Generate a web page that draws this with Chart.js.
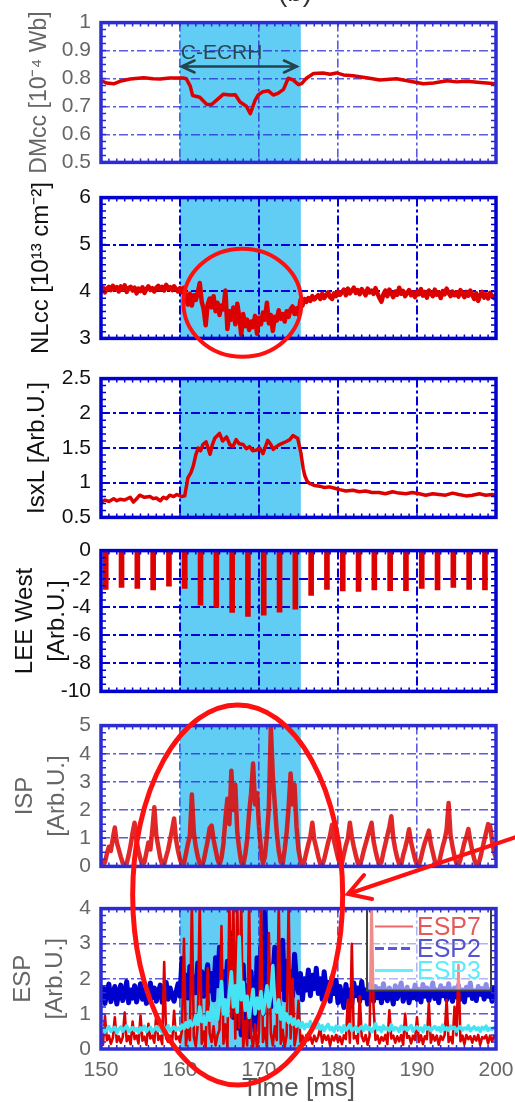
<!DOCTYPE html>
<html>
<head>
<meta charset="utf-8">
<script src="https://cdn.jsdelivr.net/npm/chart.js"></script>
<style>
  html, body { margin: 0; padding: 0; background: #fff; }
  #page { position: relative; width: 515px; height: 1102px; overflow: hidden; background: #fff; }
  #page canvas { position: absolute; left: 0; }
</style>
</head>
<body>
<div id="page"></div>
<script>
const FONT = '"Liberation Sans", Arial, Helvetica, sans-serif';

// ECRH pulse window (ms)
const heatStart = 160;
const heatEnd = 175.3;

// fast diagnostics share one sampling grid
const t0 = 150;
const dt = 0.25;

// diamagnetic flux
const dmTime = [150, 150.7, 151.6, 152.4, 153.7, 155.4, 156.6, 157.5, 158.7, 160.4,
  160.8, 161.3, 161.6, 162.5, 163.4, 164.0, 164.6, 165.5, 166.3, 167.0,
  167.6, 168.4, 168.9, 169.5, 169.9, 170.5, 171.2, 171.8, 172.4, 173.1,
  173.7, 174.3, 175.0, 175.4, 176.0, 176.9, 178.1, 179.0, 179.8, 180.7,
  181.9, 183.6, 185.3, 187.4, 189.1, 190.8, 192.1, 193.8, 195.0, 196.3,
  198.0, 200];
const dmValue = [0.793, 0.784, 0.781, 0.790, 0.798, 0.803, 0.799, 0.798, 0.802, 0.802,
  0.799, 0.773, 0.739, 0.733, 0.707, 0.707, 0.722, 0.744, 0.741, 0.742,
  0.716, 0.701, 0.674, 0.722, 0.741, 0.753, 0.756, 0.741, 0.747, 0.761,
  0.801, 0.795, 0.778, 0.782, 0.801, 0.818, 0.820, 0.815, 0.820, 0.813,
  0.810, 0.803, 0.795, 0.799, 0.790, 0.781, 0.784, 0.792, 0.788, 0.790,
  0.786, 0.781];

// line density, 0.25 ms samples
const nlValue = [
  4.02, 4.08, 3.98, 4.06, 4.10, 4.03, 4.12, 4.05, 4.09, 4.00,
  4.11, 4.04, 4.13, 3.99, 4.07, 4.10, 4.02, 4.08, 3.96, 4.06,
  4.01, 4.09, 3.97, 4.05, 4.11, 4.03, 4.07, 4.00, 4.08, 4.12,
  4.04, 4.10, 4.02, 4.14, 4.06, 4.09, 4.03, 4.11, 4.05, 4.00,
  4.07, 3.98, 4.08, 3.90, 3.72, 3.95, 3.70, 3.92, 3.82, 3.98,
  4.18, 3.78, 3.62, 3.28, 3.72, 3.85, 3.66, 3.90, 3.58, 3.76,
  3.50, 3.70, 3.62, 4.02, 3.20, 3.58, 3.40, 3.66, 3.30, 3.74,
  3.46, 3.08, 3.52, 3.26, 3.40, 3.18, 3.36, 3.24, 3.48, 3.10,
  3.44, 3.30, 3.55, 3.40, 3.76, 3.32, 3.50, 3.16, 3.46, 3.38,
  3.60, 3.42, 3.52, 3.36, 3.58, 3.46, 3.62, 3.68, 3.52, 3.64,
  3.50, 3.82, 3.70, 3.84, 3.78, 3.86, 3.80, 3.90, 3.83, 3.88,
  3.92, 3.84, 3.95, 3.86, 3.92, 3.98, 3.88, 3.84, 3.96, 3.90,
  4.00, 3.93, 3.98, 4.04, 3.92, 4.06, 3.96, 4.02, 4.08, 3.97,
  4.03, 3.94, 4.05, 3.99, 3.92, 4.06, 3.98, 4.02, 3.95, 4.07,
  3.96, 3.86, 3.78, 3.94, 4.02, 3.90, 4.04, 3.96, 3.88, 4.00,
  3.93, 4.08, 3.95, 4.01, 3.90, 3.97, 4.03, 3.92, 3.98, 3.88,
  4.00, 3.94, 4.05, 3.91, 3.99, 3.87, 4.02, 3.96, 3.90, 4.04,
  3.93, 3.98, 3.86, 4.01, 3.94, 4.06, 3.97, 3.90, 4.00, 3.92,
  3.98, 3.89, 4.03, 3.95, 3.88, 3.99, 3.91, 4.02, 3.93, 3.84,
  3.96, 3.80, 3.92, 3.99, 3.87, 3.94, 3.85, 3.97, 3.90, 3.86,
  3.93];

// soft X-ray
const isxTime = [150.0, 150.5, 151.0, 151.6, 152.0, 152.4, 153.0, 153.7, 154.1, 154.6,
  154.9, 155.5, 156.2, 156.6, 157.0, 157.5, 157.9, 158.3, 158.7, 159.2,
  159.6, 160.2, 160.6, 161.0, 161.4, 161.7, 162.0, 162.3, 162.6, 162.9,
  163.3, 163.8, 164.1, 164.4, 165.0, 165.4, 165.9, 166.3, 166.7, 167.1,
  167.5, 168.0, 168.4, 168.8, 169.2, 169.7, 170.1, 170.5, 171.1, 171.5,
  171.8, 172.2, 172.6, 173.0, 173.4, 173.9, 174.3, 174.6, 174.9, 175.3,
  175.6, 175.8, 176.1, 176.4, 177.0, 177.7, 178.3, 178.9, 179.6, 180.2,
  181.0, 181.9, 182.7, 183.5, 184.3, 185.2, 186.0, 186.9, 187.7, 188.6,
  189.4, 190.3, 191.1, 192.0, 192.8, 193.6, 194.5, 195.3, 196.2, 197.0,
  197.9, 198.7, 199.5, 200.0];
const isxValue = [0.72, 0.75, 0.73, 0.77, 0.74, 0.76, 0.75, 0.79, 0.72, 0.78,
  0.82, 0.79, 0.80, 0.77, 0.78, 0.74, 0.79, 0.77, 0.82, 0.80,
  0.83, 0.80, 0.81, 1.07, 1.15, 1.25, 1.40, 1.50, 1.46, 1.55,
  1.59, 1.41, 1.55, 1.64, 1.71, 1.60, 1.66, 1.55, 1.52, 1.62,
  1.56, 1.55, 1.49, 1.52, 1.46, 1.47, 1.50, 1.42, 1.61, 1.55,
  1.48, 1.52, 1.55, 1.57, 1.59, 1.62, 1.68, 1.66, 1.64, 1.43,
  1.20, 1.10, 1.02, 0.99, 0.96, 0.95, 0.93, 0.94, 0.92, 0.90,
  0.88, 0.89, 0.87, 0.88, 0.86, 0.86, 0.84, 0.87, 0.85, 0.84,
  0.86, 0.84, 0.82, 0.84, 0.83, 0.82, 0.85, 0.83, 0.81, 0.82,
  0.84, 0.82, 0.83, 0.82];

// LEE west probe bursts
const leeTime = [150.6, 152.6, 154.6, 156.6, 158.6, 160.6, 162.6, 164.6, 166.6, 168.6,
  170.6, 172.6, 174.6, 176.6, 178.6, 180.6, 182.6, 184.6, 186.6, 188.6,
  190.6, 192.6, 194.6, 196.6, 198.6];
const leeDepth = [-2.76, -2.62, -2.69, -2.80, -2.52, -2.69, -3.88, -4.04, -4.39, -4.67,
  -4.58, -4.37, -4.16, -3.18, -2.76, -2.87, -2.90, -2.80, -2.85, -2.85,
  -2.69, -2.80, -2.62, -2.76, -2.80];

// ion saturation current, 0.25 ms samples
const ispValue = [
  0.20, 0.05, 0.15, 0.45, 0.70, 0.55, 1.00, 1.38, 0.85, 0.60,
  0.35, 0.12, 0.02, 0.10, 0.40, 0.75, 1.20, 1.55, 0.90, 0.55,
  0.25, 0.05, 0.15, 0.50, 0.85, 0.60, 1.30, 2.10, 1.10, 0.70,
  0.30, 0.06, 0.08, 0.35, 0.60, 0.95, 1.30, 1.70, 0.95, 0.55,
  0.25, 0.04, 0.10, 0.45, 0.80, 1.10, 2.55, 1.20, 0.70, 0.35,
  0.10, 0.02, 0.20, 0.55, 0.90, 1.35, 1.45, 0.95, 0.60, 0.25,
  0.05, 0.30, 0.80, 1.70, 2.40, 1.50, 3.40, 2.00, 2.90, 1.20,
  0.60, 0.15, 0.05, 0.40, 0.95, 1.90, 2.60, 3.65, 2.20, 2.60,
  1.40, 0.60, 0.10, 0.35, 1.10, 2.10, 4.95, 3.20, 2.20, 1.20,
  0.55, 0.15, 0.10, 0.60, 1.20, 2.10, 3.30, 2.20, 2.90, 1.40,
  0.60, 0.20, 0.05, 0.20, 0.50, 0.80, 1.05, 1.55, 0.95, 0.65,
  0.35, 0.10, 0.03, 0.25, 0.55, 0.85, 1.10, 1.48, 0.90, 0.60,
  0.30, 0.06, 0.10, 0.45, 0.75, 1.00, 1.55, 1.05, 0.70, 0.40,
  0.12, 0.03, 0.25, 0.55, 0.80, 1.05, 1.30, 1.55, 0.90, 0.55,
  0.25, 0.05, 0.15, 0.50, 0.80, 1.10, 1.40, 1.78, 1.00, 0.60,
  0.30, 0.08, 0.05, 0.40, 0.65, 0.95, 1.32, 0.85, 0.55, 0.25,
  0.06, 0.04, 0.30, 0.60, 0.85, 1.05, 1.27, 0.80, 0.50, 0.20,
  0.05, 0.08, 0.40, 0.70, 0.95, 1.30, 2.25, 1.10, 0.70, 0.35,
  0.10, 0.03, 0.25, 0.55, 0.85, 1.05, 1.33, 0.90, 0.55, 0.25,
  0.06, 0.05, 0.30, 0.60, 0.90, 1.20, 1.50, 1.45, 0.90, 0.50,
  0.30];

// electrostatic probes, 0.25 ms samples
const espNames = ['ESP7', 'ESP2', 'ESP3'];
const esp7Value = [
  0.30, 0.12, 0.94, 0.25, 0.38, 0.15, 0.32, 0.90, 0.20, 0.36,
  0.18, 0.33, 1.04, 0.22, 0.37, 0.14, 0.78, 0.28, 0.38, 0.16,
  0.95, 0.24, 0.35, 0.12, 0.72, 0.30, 0.38, 0.18, 1.00, 0.26,
  0.37, 0.14, 2.48, 0.30, 0.20, 0.38, 0.15, 1.09, 0.28, 0.35,
  0.20, 0.55, 3.14, 0.10, 0.60, 0.25, 4.20, 0.35, 0.08, 0.70,
  4.20, 0.15, 0.50, 0.05, 2.30, 0.45, 0.20, 0.65, 0.10, 0.40,
  0.55, 3.50, 0.15, 0.70, 0.05, 4.20, 0.90, 4.20, 0.30, 4.20,
  0.60, 4.20, 0.00, 0.80, 0.10, 4.20, 0.40, 0.05, 0.70, 0.00,
  0.50, 4.20, 0.20, 0.60, 0.05, 3.30, 0.45, 0.10, 0.65, 0.25,
  4.20, 0.15, 0.55, 0.05, 0.40, 4.20, 0.30, 2.00, 0.10, 0.45,
  1.37, 0.20, 0.38, 0.12, 0.40, 0.25, 0.35, 0.15, 0.38, 0.22,
  0.36, 0.60, 0.18, 0.40, 0.26, 0.38, 0.10, 0.37, 0.24, 0.40,
  0.20, 0.35, 0.14, 0.39, 0.28, 1.40, 0.18, 3.00, 0.30, 0.37,
  0.16, 1.50, 0.36, 0.22, 0.40, 0.12, 0.38, 4.20, 1.20, 0.26,
  0.38, 0.16, 0.34, 0.24, 0.40, 0.14, 1.10, 0.30, 0.38, 0.18,
  0.36, 0.22, 0.40, 0.12, 1.00, 0.32, 0.37, 0.16, 0.38, 0.26,
  0.90, 0.20, 0.39, 0.14, 0.36, 0.28, 1.30, 0.18, 0.40, 0.24,
  0.38, 0.12, 0.37, 0.26, 0.40, 1.40, 0.20, 0.34, 0.16, 1.20,
  0.39, 2.40, 0.22, 0.38, 0.14, 0.40, 0.28, 0.36, 0.18, 0.37,
  0.24, 0.40, 0.12, 0.34, 0.30, 0.39, 0.16, 0.38, 0.22, 0.37,
  0.28];
const esp2Value = [
  1.45, 1.75, 1.30, 1.62, 1.85, 1.35, 1.55, 1.78, 1.28, 1.60,
  1.82, 1.38, 1.58, 1.92, 1.32, 1.68, 1.45, 1.80, 1.34, 1.60,
  1.86, 1.42, 1.70, 1.30, 1.56, 1.88, 1.46, 1.74, 1.36, 1.62,
  1.82, 1.33, 1.66, 1.90, 1.42, 1.74, 1.52, 1.36, 1.62, 1.86,
  1.50, 2.58, 1.70, 2.10, 1.45, 2.35, 1.85, 2.05, 1.60, 2.45,
  1.75, 2.20, 1.50, 1.95, 2.40, 1.65, 2.15, 1.40, 2.60, 1.80,
  2.90, 1.70, 2.20, 1.50, 2.50, 1.20, 3.30, 0.90, 2.00, 0.60,
  1.60, 0.40, 2.40, 0.80, 1.80, 0.35, 2.20, 1.10, 0.50, 2.60,
  1.40, 2.90, 1.00, 4.00, 1.60, 2.40, 1.20, 2.00, 2.90, 1.50,
  2.30, 1.70, 3.10, 1.40, 2.50, 1.80, 2.20, 1.50, 2.70, 1.90,
  1.60, 2.15, 1.40, 2.00, 1.68, 2.25, 1.52, 2.10, 1.72, 2.30,
  1.58, 2.00, 1.42, 2.20, 1.68, 1.90, 1.36, 2.05, 1.58, 1.95,
  1.32, 1.78, 1.48, 1.18, 1.84, 1.42, 1.68, 1.28, 1.88, 1.52,
  1.74, 1.36, 1.92, 1.46, 1.68, 1.28, 1.84, 1.52, 1.36, 1.78,
  1.46, 1.72, 1.32, 1.86, 1.52, 1.38, 1.74, 1.58, 1.28, 1.80,
  1.44, 1.68, 1.88, 1.36, 1.60, 1.76, 1.32, 1.66, 1.46, 1.82,
  1.42, 1.70, 1.34, 1.84, 1.50, 1.74, 1.38, 1.62, 1.88, 1.44,
  1.68, 1.32, 1.80, 1.52, 1.72, 1.40, 1.86, 1.56, 1.36, 1.74,
  1.48, 1.82, 1.42, 1.68, 1.34, 1.76, 1.54, 1.88, 1.44, 1.66,
  1.38, 1.78, 1.56, 1.72, 1.42, 1.84, 1.50, 1.68, 1.36, 1.74,
  1.56];
const esp3Value = [
  0.52, 0.60, 0.48, 0.58, 0.64, 0.50, 0.56, 0.62, 0.46, 0.57,
  0.63, 0.51, 0.59, 0.66, 0.49, 0.55, 0.61, 0.53, 0.58, 0.47,
  0.60, 0.54, 0.65, 0.50, 0.57, 0.62, 0.48, 0.56, 0.64, 0.52,
  0.59, 0.46, 0.61, 0.55, 0.67, 0.51, 0.58, 0.63, 0.54, 0.60,
  0.55, 0.68, 0.58, 0.75, 0.62, 0.80, 0.66, 0.72, 0.95, 0.70,
  1.20, 0.78, 0.88, 0.70, 1.05, 0.82, 1.25, 0.90, 1.10, 0.85,
  1.30, 1.92, 1.00, 1.40, 0.95, 1.60, 2.20, 1.20, 1.80, 1.05,
  3.20, 1.40, 1.90, 1.10, 1.50, 0.90, 1.30, 1.70, 1.00, 1.45,
  1.15, 1.64, 1.00, 1.35, 1.80, 1.20, 1.50, 2.38, 1.30, 1.05,
  1.40, 0.85, 1.18, 0.80, 1.00, 0.75, 0.92, 0.70, 0.85, 0.65,
  0.80, 0.62, 0.75, 0.58, 0.70, 0.64, 0.78, 0.55, 0.68, 0.60,
  0.72, 0.57, 0.66, 0.52, 0.63, 0.70, 0.55, 0.61, 0.50, 0.65,
  0.58, 0.62, 0.48, 0.66, 0.54, 0.60, 0.70, 0.52, 0.57, 0.63,
  0.50, 0.59, 0.64, 0.53, 0.68, 0.56, 0.61, 0.49, 0.58, 0.72,
  0.55, 0.62, 0.50, 0.66, 0.57, 0.60, 0.52, 0.69, 0.54, 0.61,
  0.58, 0.50, 0.65, 0.56, 0.62, 0.53, 0.60, 0.67, 0.51, 0.59,
  0.63, 0.54, 0.60, 0.49, 0.66, 0.57, 0.62, 0.52, 0.58, 0.64,
  0.55, 0.61, 0.50, 0.68, 0.56, 0.60, 0.53, 0.65, 0.58, 0.62,
  0.51, 0.59, 0.64, 0.54, 0.60, 0.57, 0.66, 0.52, 0.58, 0.63,
  0.55, 0.60, 0.50, 0.62, 0.57, 0.65, 0.53, 0.59, 0.56, 0.61,
  0.58];

const page = document.getElementById('page');

function paired(times, values) {
  return values.map((v, i) => ({x: times[i], y: v}));
}
function sampled(values) {
  return values.map((v, i) => ({x: t0 + i * dt, y: v}));
}

const looks = {
  muted: {frame: '#2c2cd2', grid: 'rgba(45,45,215,0.78)', gridWidth: 1.6, text: '#666666'},
  strong: {frame: '#0000d0', grid: '#0000dc', gridWidth: 2, text: '#111111'}
};

// heating band underneath the grid, heavy frame and inner minor ticks on top
function decoPlugin(frame, yStep, minor) {
  return {
    id: 'deco',
    beforeDraw(chart) {
      const {ctx, chartArea: a, scales: {x}} = chart;
      const x0 = x.getPixelForValue(heatStart);
      const x1 = x.getPixelForValue(heatEnd);
      ctx.save();
      ctx.fillStyle = '#62cdf4';
      ctx.fillRect(x0, a.top, x1 - x0, a.bottom - a.top);
      ctx.restore();
    },
    afterDraw(chart) {
      const {ctx, chartArea: a, scales: {x, y}} = chart;
      ctx.save();
      ctx.strokeStyle = frame;
      ctx.lineWidth = 1.5;
      ctx.beginPath();
      const n = Math.round((y.max - y.min) / yStep) * minor;
      for (let i = 1; i < n; i++) {
        const py = y.getPixelForValue(y.min + i * yStep / minor);
        ctx.moveTo(a.left, py); ctx.lineTo(a.left + 5, py);
        ctx.moveTo(a.right, py); ctx.lineTo(a.right - 5, py);
      }
      for (let ms = 151; ms < 200; ms++) {
        const px = x.getPixelForValue(ms);
        ctx.moveTo(px, a.top); ctx.lineTo(px, a.top + 4);
        ctx.moveTo(px, a.bottom); ctx.lineTo(px, a.bottom - 4);
      }
      ctx.stroke();
      ctx.lineWidth = 3.5;
      ctx.strokeRect(a.left, a.top, a.right - a.left, a.bottom - a.top);
      ctx.restore();
    }
  };
}

const plainNumber = v => String(+v.toFixed(2));

function makePanel(p) {
  const look = looks[p.look];
  const canvas = document.createElement('canvas');
  const canvasTop = p.top - 20;
  const height = p.last ? 1102 - canvasTop : p.bottom - p.top + 40;
  canvas.width = 515;
  canvas.height = height;
  canvas.style.top = canvasTop + 'px';
  page.appendChild(canvas);
  const xBand = p.last ? height - 20 - (p.bottom - p.top) : 0;
  const grid = {color: look.grid, lineWidth: look.gridWidth, drawTicks: false, offset: false};
  const border = {display: false, dash: [9, 3, 3, 3]};
  const chart = new Chart(canvas, {
    type: p.type || 'line',
    data: {datasets: p.datasets},
    options: {
      responsive: false,
      animation: false,
      events: [],
      layout: {padding: {left: 0, right: 19, top: 20, bottom: p.last ? 0 : 20}},
      elements: {
        point: {radius: 0},
        line: {tension: 0, borderJoinStyle: 'round', borderCapStyle: 'round'}
      },
      plugins: {legend: {display: false}, tooltip: {enabled: false}},
      scales: {
        x: {
          type: 'linear', min: 150, max: 200, offset: false,
          grid: grid, border: border,
          ticks: {display: !!p.last, stepSize: 10, padding: 9, color: '#666',
                  font: {family: FONT, size: 21}},
          title: {display: !!p.last, text: 'Time [ms]', color: '#555',
                  font: {family: FONT, size: 26, lineHeight: 1}, padding: 0},
          afterFit: s => { s.height = xBand; s.paddingLeft = 0; s.paddingRight = 0; }
        },
        y: {
          min: p.yMin, max: p.yMax,
          grid: grid, border: border,
          ticks: {stepSize: p.yStep, padding: 10, color: look.text,
                  font: {family: FONT, size: 21}, callback: plainNumber},
          title: {display: true, text: p.title, color: look.text,
                  font: {family: FONT, size: p.titleSize, lineHeight: p.titleLine || 1.2},
                  padding: {top: p.titlePad, bottom: 0}},
          afterFit: s => { s.width = 101; }
        }
      }
    },
    plugins: [decoPlugin(look.frame, p.yStep, p.minor)].concat(p.extra || [])
  });
  chart.pageTop = canvasTop;
  return chart;
}

// double arrow marking the heating pulse
const ecrhLabel = {
  id: 'ecrhLabel',
  afterDatasetsDraw(chart) {
    const {ctx, scales: {x, y}} = chart;
    const xa = x.getPixelForValue(160.2), xb = x.getPixelForValue(174.8);
    const ya = y.getPixelForValue(0.843);
    ctx.save();
    ctx.strokeStyle = '#23434d';
    ctx.lineWidth = 2.5;
    ctx.lineCap = 'round';
    ctx.beginPath();
    ctx.moveTo(xa, ya); ctx.lineTo(xb, ya);
    ctx.moveTo(xa + 13, ya - 6); ctx.lineTo(xa, ya); ctx.lineTo(xa + 13, ya + 6);
    ctx.moveTo(xb - 13, ya - 6); ctx.lineTo(xb, ya); ctx.lineTo(xb - 13, ya + 6);
    ctx.stroke();
    ctx.fillStyle = '#2a4852';
    ctx.font = '21px ' + FONT;
    ctx.textBaseline = 'middle';
    ctx.fillText('C-ECRH', x.getPixelForValue(160.1), y.getPixelForValue(0.89));
    ctx.restore();
  }
};

// translucent legend box in the upper right of the probe panel
const espLegend = {
  id: 'espLegend',
  afterDatasetsDraw(chart) {
    const {ctx, chartArea: a} = chart;
    const left = a.right - 129, top = a.top, w = 124, h = 82;
    const lineColor = ['#ee6a6a', '#5858dc', '#66eeff'];
    const textColor = ['#e45a5a', '#5454cc', '#5cecfc'];
    ctx.save();
    ctx.fillStyle = 'rgba(255,255,255,0.55)';
    ctx.fillRect(left, top, w, h);
    ctx.strokeStyle = '#404040';
    ctx.lineWidth = 2;
    ctx.strokeRect(left, top, w, h);
    ctx.font = '25px ' + FONT;
    ctx.textBaseline = 'middle';
    espNames.forEach((name, i) => {
      const yy = top + 18 + i * 22;
      ctx.strokeStyle = lineColor[i];
      ctx.lineWidth = i === 0 ? 2 : 3;
      ctx.setLineDash(i === 1 ? [9, 4] : []);
      ctx.beginPath();
      ctx.moveTo(left + 8, yy); ctx.lineTo(left + 46, yy);
      ctx.stroke();
      ctx.fillStyle = textColor[i];
      ctx.fillText(name, left + 50, yy + 2);
    });
    ctx.restore();
  }
};

const red = '#dd0000';

const dmChart = makePanel({
  look: 'muted', top: 20, bottom: 165, yMin: 0.5, yMax: 1, yStep: 0.1, minor: 4,
  title: 'DMcc [10⁻⁴ Wb]', titleSize: 23, titlePad: 26,
  datasets: [{data: paired(dmTime, dmValue), borderColor: red, borderWidth: 3.5}],
  extra: [ecrhLabel]
});

const nlChart = makePanel({
  look: 'strong', top: 195, bottom: 341, yMin: 3, yMax: 6, yStep: 1, minor: 7,
  title: 'NLcc [10¹³ cm⁻²]', titleSize: 24, titlePad: 27,
  datasets: [{data: sampled(nlValue), borderColor: red, borderWidth: 4.5}]
});

const isxChart = makePanel({
  look: 'strong', top: 376, bottom: 520, yMin: 0.5, yMax: 2.5, yStep: 0.5, minor: 5,
  title: 'IsxL [Arb.U.]', titleSize: 24, titlePad: 23,
  datasets: [{data: paired(isxTime, isxValue), borderColor: red, borderWidth: 3.5}]
});

const leeChart = makePanel({
  type: 'bar', look: 'strong', top: 548, bottom: 694, yMin: -10, yMax: 0, yStep: 2, minor: 4,
  title: ['LEE West', '[Arb.U.]'], titleSize: 24, titleLine: 32 / 24, titlePad: 9,
  datasets: [{data: paired(leeTime, leeDepth), backgroundColor: red, barThickness: 5}]
});

const ispChart = makePanel({
  look: 'muted', top: 723, bottom: 869, yMin: 0, yMax: 5, yStep: 1, minor: 4,
  title: ['ISP', '[Arb.U.]'], titleSize: 24, titleLine: 32 / 24, titlePad: 9,
  datasets: [{data: sampled(ispValue), borderColor: 'rgba(221,10,10,0.88)', borderWidth: 4.5}]
});

// cyan on top, blue underneath
const espChart = makePanel({
  look: 'muted', top: 906, bottom: 1049, yMin: 0, yMax: 4, yStep: 1, minor: 5, last: true,
  title: ['ESP', '[Arb.U.]'], titleSize: 24, titleLine: 32 / 24, titlePad: 7,
  datasets: [
    {label: espNames[0], data: sampled(esp7Value), borderColor: red, borderWidth: 2.6, order: 1},
    {label: espNames[1], data: sampled(esp2Value), borderColor: '#0000cc', borderWidth: 5, order: 2},
    {label: espNames[2], data: sampled(esp3Value), borderColor: '#44e4f4', borderWidth: 3.5, order: 0}
  ],
  extra: [espLegend]
});

// hand-drawn red highlights over the whole figure
const marks = document.createElement('canvas');
marks.width = 515;
marks.height = 1102;
marks.style.top = '0px';
page.appendChild(marks);
const mc = marks.getContext('2d');

mc.fillStyle = '#333';
mc.font = '28px ' + FONT;
mc.textAlign = 'center';
mc.fillText('(b)', 295, 1);

mc.strokeStyle = '#ff1010';
mc.lineCap = 'round';

const cx = nlChart.scales.x.getPixelForValue(167.9);
const cy = nlChart.pageTop + nlChart.scales.y.getPixelForValue(3.76);
mc.lineWidth = 4;
mc.beginPath();
mc.ellipse(cx, cy, 59, 54, 0, 0, Math.PI * 2);
mc.stroke();

const ex = espChart.scales.x.getPixelForValue(167.3);
mc.lineWidth = 5;
mc.beginPath();
mc.ellipse(ex, 895, 105, 190, 0, 0, Math.PI * 2);
mc.stroke();

mc.lineWidth = 4;
mc.beginPath();
mc.moveTo(516, 837);
mc.lineTo(348, 894);
mc.moveTo(364, 875);
mc.lineTo(348, 894);
mc.lineTo(372, 899);
mc.stroke();
</script>
</body>
</html>
